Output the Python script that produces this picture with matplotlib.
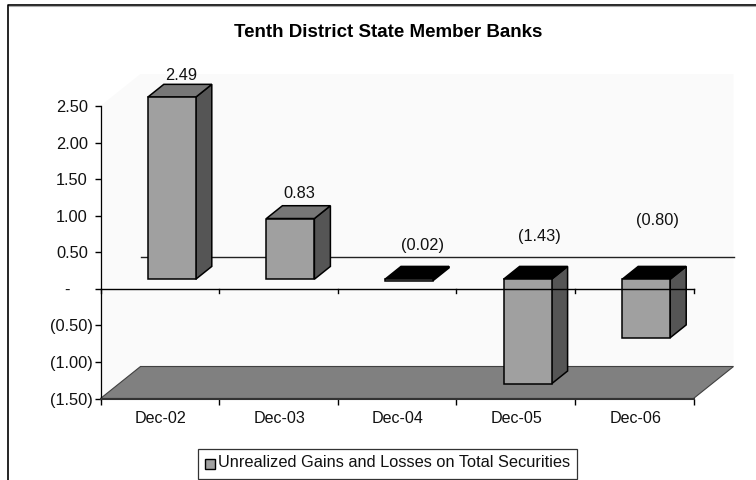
import matplotlib
matplotlib.use("Agg")
import matplotlib.pyplot as plt
from matplotlib.patches import Polygon, Rectangle
from matplotlib.lines import Line2D
from matplotlib.transforms import ScaledTranslation

plt.rcParams['font.family'] = ['Liberation Sans', 'DejaVu Sans']

categories = ['Dec-02', 'Dec-03', 'Dec-04', 'Dec-05', 'Dec-06']
values = [2.49, 0.83, -0.02, -1.43, -0.80]
value_labels = ['2.49', '0.83', '(0.02)', '(1.43)', '(0.80)']
y_ticks = [2.5, 2.0, 1.5, 1.0, 0.5, 0.0, -0.5, -1.0, -1.5]
y_tick_labels = ['2.50', '2.00', '1.50', '1.00', '0.50', '-', '(0.50)', '(1.00)', '(1.50)']
title = 'Tenth District State Member Banks'
legend_label = 'Unrealized Gains and Losses on Total Securities'

W, H = 756, 480
fig = plt.figure(figsize=(W / 100, H / 100), dpi=100, facecolor='white')
L, R, T, B = 100.5, 693.5, 106.0, 398.5
ax = fig.add_axes([L / W, 1 - B / H, (R - L) / W, (B - T) / H])
ax.set_xlim(0, len(categories))
ax.set_ylim(-1.5, 2.5)
ax.set_facecolor('none')

PXX = (R - L) / len(categories)
PXY = (B - T) / 4.0
DX, DY = 40.0 / PXX, 32.0 / PXY          # full chart depth, in data units
BAR_W = 48.0 / PXX
D0, D1 = 0.30, 0.70                      # bar's depth slice


def p(x, y, d=0.0):
    return (x + DX * d, y + DY * d)


def poly(pts, fc, ec='none', lw=0.0, z=2):
    ax.add_patch(Polygon(pts, closed=True, facecolor=fc, edgecolor=ec, linewidth=lw,
                         zorder=z, clip_on=False, joinstyle='miter'))


# back wall and side wall
poly([p(0, -1.5), p(0, 2.5), p(0, 2.5, 1), p(5, 2.5, 1), p(5, -1.5, 1)], '#FAFAFA', z=1)
# floor
poly([p(0, -1.5), p(5, -1.5), p(5, -1.5, 1), p(0, -1.5, 1)], '#808080', ec='#404040', lw=0.8, z=1.2)
# back wall zero line
ax.add_line(Line2D(*zip(p(0, 0, 1), p(5, 0, 1)), color='#222222', lw=1.0, zorder=1.5, clip_on=False))

# zero axis with ticks
ax.add_line(Line2D([0, 5], [0, 0], color='black', lw=1.0, zorder=6, clip_on=False))
for i in range(6):
    ax.add_line(Line2D([i, i], [0, -4.5 / PXY], color='black', lw=1.0, zorder=6, clip_on=False))

# bars
for i, v in enumerate(values):
    x0 = i + 0.5 - BAR_W / 2
    x1 = i + 0.5 + BAR_W / 2
    lo, hi = min(v, 0), max(v, 0)
    neg = v < 0
    zz = 3 + i * 0.01
    poly([p(x1, lo, D0), p(x1, hi, D0), p(x1, hi, D1), p(x1, lo, D1)], '#555555', 'black', 1.1, zz)
    poly([p(x0, hi, D0), p(x1, hi, D0), p(x1, hi, D1), p(x0, hi, D1)],
         'black' if neg else '#777777', 'black', 1.1, zz)
    poly([p(x0, lo, D0), p(x1, lo, D0), p(x1, hi, D0), p(x0, hi, D0)], '#A0A0A0', 'black', 1.1, zz)

# data labels
label_x = [0.683, 1.674, 2.719, 3.697, 4.698]
label_y = [2.914, 1.301, 0.590, 0.717, 0.932]
for x, y, s in zip(label_x, label_y, value_labels):
    ax.text(x, y, s, ha='center', va='center', fontsize=11.8, color='#111111', zorder=7, clip_on=False)

# axes furniture
for s in ('top', 'right'):
    ax.spines[s].set_visible(False)
ax.spines['left'].set_linewidth(0.9)
ax.spines['bottom'].set_linewidth(1.5)
ax.spines['bottom'].set_color('#333333')
ax.spines['bottom'].set_zorder(2.5)
ax.set_yticks(y_ticks)
ax.set_yticklabels(y_tick_labels, fontsize=11.8, color='#111111')
ax.set_xticks(range(6))
ax.set_xticklabels([])
ax.set_xticks([i + 0.508 for i in range(5)], minor=True)
ax.set_xticklabels(categories, minor=True, fontsize=11.6, color='#111111')
ax.tick_params(axis='x', which='major', length=4, width=1.0, direction='out')
ax.tick_params(axis='x', which='minor', length=0, pad=9)
ax.tick_params(axis='y', length=4.5, width=1.0, pad=2.5)

# accounting-style label alignment: parentheses overhang, the dash sits further left
for lab, txt in zip(ax.get_yticklabels(), y_tick_labels):
    shift = 2 if txt.startswith('(') else (-21 if txt == '-' else -3)
    lab.set_transform(lab.get_transform() + ScaledTranslation(shift / 100, 0, fig.dpi_scale_trans))

# chart frame (left and top only are in view)
fig.add_artist(Line2D([8 / W, 8 / W, 1], [0, 1 - 4.7 / H, 1 - 4.7 / H],
                      transform=fig.transFigure, color='black', lw=1.2))
fig.add_artist(Line2D([9 / W, 1], [1 - 6 / H, 1 - 6 / H],
                      transform=fig.transFigure, color='#AAAAAA', lw=0.8))

fig.text(388 / W, 1 - 32.5 / H, title, ha='center', va='center', fontsize=13.5, fontweight='bold', color='black')

# legend
fig.add_artist(Rectangle((198 / W, 1 - 479 / H), 379 / W, 30 / H, transform=fig.transFigure,
                         facecolor='white', edgecolor='#333333', lw=0.9))
fig.add_artist(Rectangle((204.7 / W, 1 - 469 / H), 10 / W, 10 / H, transform=fig.transFigure,
                         facecolor='#A0A0A0', edgecolor='black', lw=1.0))
fig.text(218.5 / W, 1 - 462.5 / H, legend_label, ha='left', va='center', fontsize=11.75, color='#111111')

fig.savefig('out.png', dpi=100)
